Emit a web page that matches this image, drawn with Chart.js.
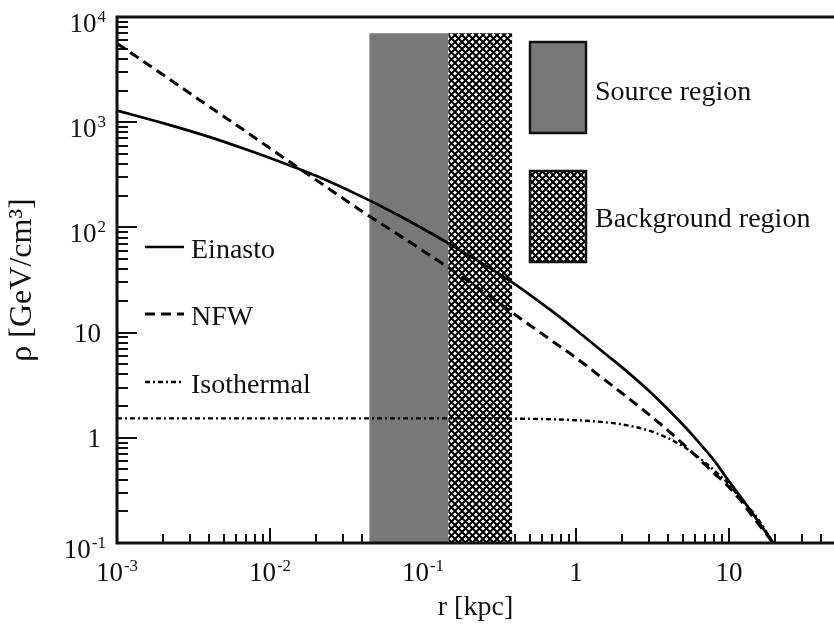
<!DOCTYPE html>
<html>
<head>
<meta charset="utf-8">
<title>Dark matter density profiles</title>
<script src="https://cdn.jsdelivr.net/npm/chart.js@4.4.1/dist/chart.umd.min.js"></script>
<style>
  html, body { margin: 0; padding: 0; background: #fff; }
  canvas { display: block; }
</style>
</head>
<body>
<canvas id="myChart" width="834" height="624"></canvas>
<script>
// radius in kpc, density in GeV/cm^3
var radius     = [0.001, 0.002, 0.004, 0.007, 0.01, 0.02, 0.04, 0.07, 0.1, 0.2, 0.4, 0.7, 1, 1.5, 2, 3, 4, 5, 6, 7, 8, 10, 12, 15, 19.5];
var einasto    = [1290, 980, 725, 550, 457, 309, 195, 129, 97, 54, 28.8, 15.9, 10.6, 6.55, 4.67, 2.79, 1.86, 1.33, 0.995, 0.767, 0.607, 0.385, 0.27, 0.172, 0.1];
var nfw        = [5600, 2820, 1410, 810, 565, 283, 142, 84, 60, 30.5, 14.8, 8.3, 5.75, 3.66, 2.65, 1.66, 1.17, 0.875, 0.684, 0.551, 0.46, 0.34, 0.25, 0.162, 0.1];
var isothermal = [1.53, 1.53, 1.53, 1.53, 1.53, 1.53, 1.53, 1.53, 1.53, 1.53, 1.52, 1.5, 1.47, 1.41, 1.34, 1.17, 0.99, 0.83, 0.69, 0.58, 0.49, 0.36, 0.26, 0.18, 0.1];
var profiles   = ['Einasto', 'NFW', 'Isothermal'];

// shaded regions (kpc)
var regions    = ['Source region', 'Background region'];
var regionFrom = [0.0445, 0.146];
var regionTo   = [0.146, 0.383];
var regionTop  = 7000;

// axes
var xDecades    = [0.001, 0.01, 0.1, 1, 10];
var xTickLabels = [['10', '-3'], ['10', '-2'], ['10', '-1'], ['1', ''], ['10', '']];
var yDecades    = [0.1, 1, 10, 100, 1000, 10000];
var yTickLabels = [['10', '-1'], ['1', ''], ['10', ''], ['10', '2'], ['10', '3'], ['10', '4']];

var serif = '"Liberation Serif", "Times New Roman", serif';
var ink = '#111';

function toPoints(values) {
    return values.map(function (v, i) { return {x: radius[i], y: v}; });
}

function logTicks(decades, min, max) {
    var out = [];
    decades.forEach(function (d) {
        for (var m = 1; m < 10; m++) {
            var v = d * m;
            if (v >= min * 0.999 && v <= max * 1.001) out.push({value: v, major: m === 1});
        }
    });
    return out;
}

function hatchPattern() {
    var s = 7;
    var c = document.createElement('canvas');
    c.width = s; c.height = s;
    var g = c.getContext('2d');
    g.fillStyle = '#fff';
    g.fillRect(0, 0, s, s);
    g.strokeStyle = '#000';
    g.lineWidth = 2;
    for (var k = -1; k <= 1; k++) {
        g.beginPath();
        g.moveTo(k * s, 0); g.lineTo(k * s + s, s);
        g.moveTo(k * s + s, 0); g.lineTo(k * s, s);
        g.stroke();
    }
    return g.createPattern(c, 'repeat');
}

function drawSupText(ctx, parts, x, baseline, align) {
    ctx.font = '27px ' + serif;
    var w1 = ctx.measureText(parts[0]).width;
    ctx.font = '17px ' + serif;
    var w2 = parts[1] ? ctx.measureText(parts[1]).width + 1 : 0;
    var left = align === 'center' ? x - (w1 + w2) / 2 : x - (w1 + w2);
    ctx.textAlign = 'left';
    ctx.textBaseline = 'alphabetic';
    ctx.font = '27px ' + serif;
    ctx.fillText(parts[0], left, baseline);
    if (parts[1]) {
        ctx.font = '17px ' + serif;
        ctx.fillText(parts[1], left + w1 + 1, baseline - 10);
    }
}

var framePlugin = {
    id: 'frame',
    // inner ticks go under the shaded bands
    beforeDatasetsDraw: function (chart) {
        var ctx = chart.ctx, a = chart.chartArea, sx = chart.scales.x, sy = chart.scales.y;
        ctx.save();
        ctx.strokeStyle = ink;
        ctx.lineWidth = 2;
        sx.ticks.forEach(function (t) {
            var px = Math.round(sx.getPixelForValue(t.value));
            ctx.beginPath();
            ctx.moveTo(px, a.bottom);
            ctx.lineTo(px, a.bottom - (t.major ? 15 : 9));
            ctx.stroke();
        });
        sy.ticks.forEach(function (t) {
            var py = Math.round(sy.getPixelForValue(t.value));
            ctx.beginPath();
            ctx.moveTo(a.left, py);
            ctx.lineTo(a.left + (t.major ? 20 : 11), py);
            ctx.stroke();
        });
        ctx.restore();
    },
    afterDatasetsDraw: function (chart) {
        var ctx = chart.ctx, a = chart.chartArea;
        ctx.save();
        ctx.strokeStyle = ink;
        ctx.lineWidth = 3;
        ctx.lineJoin = 'miter';
        ctx.beginPath();
        ctx.moveTo(a.right + 2, a.top);
        ctx.lineTo(a.left, a.top);
        ctx.lineTo(a.left, a.bottom);
        ctx.lineTo(a.right + 2, a.bottom);
        ctx.stroke();
        ctx.restore();
    },
    afterDraw: function (chart) {
        var ctx = chart.ctx, a = chart.chartArea, sx = chart.scales.x, sy = chart.scales.y;
        ctx.save();
        ctx.fillStyle = ink;

        // tick labels with superscripts
        xDecades.forEach(function (d, i) {
            drawSupText(ctx, xTickLabels[i], sx.getPixelForValue(d), a.bottom + 38, 'center');
        });
        yDecades.forEach(function (d, i) {
            var sup = yTickLabels[i][1] !== '';
            var py = sy.getPixelForValue(d);
            drawSupText(ctx, yTickLabels[i], a.left - (sup ? 11 : 16), py + (sup ? 15 : 9), 'right');
        });

        // profile legend
        var rows = [247, 314, 382];
        for (var i = 0; i < 3; i++) {
            var ds = chart.data.datasets[i];
            ctx.strokeStyle = ds.borderColor;
            ctx.lineWidth = ds.borderWidth;
            ctx.setLineDash(ds.borderDash);
            ctx.beginPath();
            ctx.moveTo(145, rows[i]);
            ctx.lineTo(184, rows[i]);
            ctx.stroke();
            ctx.setLineDash([]);
            ctx.font = '28px ' + serif;
            ctx.textAlign = 'left';
            ctx.textBaseline = 'alphabetic';
            ctx.fillText(ds.label, 191, rows[i] + 11);
        }

        // region legend
        var boxes = [[530, 42, 56, 91, 100], [530, 171, 56, 91, 227]];
        for (var j = 0; j < 2; j++) {
            var rd = chart.data.datasets[3 + j];
            var b = boxes[j];
            ctx.fillStyle = rd.backgroundColor;
            ctx.fillRect(b[0], b[1], b[2], b[3]);
            ctx.strokeStyle = ink;
            ctx.lineWidth = 2.5;
            ctx.strokeRect(b[0], b[1], b[2], b[3]);
            ctx.fillStyle = ink;
            ctx.font = '28px ' + serif;
            ctx.fillText(rd.label, 595, b[4]);
        }
        ctx.restore();
    }
};

var ctx = document.getElementById('myChart').getContext('2d');

var datasets = [
    {label: profiles[0], data: toPoints(einasto), borderColor: '#000', borderWidth: 2.7, borderDash: []},
    {label: profiles[1], data: toPoints(nfw), borderColor: '#000', borderWidth: 3, borderDash: [10, 6]},
    {label: profiles[2], data: toPoints(isothermal), borderColor: '#000', borderWidth: 2.4, borderDash: [5, 3, 2, 3]}
];
regions.forEach(function (name, i) {
    datasets.push({
        label: name,
        data: [{x: regionFrom[i], y: regionTop}, {x: regionTo[i], y: regionTop}],
        backgroundColor: i === 0 ? '#787878' : hatchPattern(),
        borderColor: 'rgba(0,0,0,0)',
        borderWidth: 0,
        fill: 'start',
        tension: 0
    });
});

var chart = new Chart(ctx, {
    type: 'line',
    data: {datasets: datasets},
    options: {
        responsive: false,
        animation: false,
        devicePixelRatio: 1,
        layout: {padding: {top: 17, left: 0, right: 0, bottom: 0}},
        plugins: {legend: {display: false}, tooltip: {enabled: false}},
        elements: {
            point: {radius: 0},
            line: {cubicInterpolationMode: 'monotone', borderCapStyle: 'butt', fill: false}
        },
        scales: {
            x: {
                type: 'logarithmic',
                position: 'bottom',
                min: 0.001,
                max: 48.5,
                afterBuildTicks: function (s) { s.ticks = logTicks(xDecades, s.min, s.max); },
                afterFit: function (s) { s.height = 81; },
                ticks: {display: false},
                grid: {display: false},
                border: {display: false},
                title: {display: true, text: 'r [kpc]', color: ink, font: {family: serif, size: 28}, padding: {top: 0, bottom: 0}}
            },
            y: {
                type: 'logarithmic',
                position: 'left',
                min: 0.1,
                max: 10000,
                afterBuildTicks: function (s) { s.ticks = logTicks(yDecades, s.min, s.max); },
                afterFit: function (s) { s.width = 117; },
                ticks: {display: false},
                grid: {display: false},
                border: {display: false},
                title: {display: true, text: 'ρ [GeV/cm³]', color: ink, font: {family: serif, size: 32}, padding: {top: 3, bottom: 0}}
            }
        }
    },
    plugins: [framePlugin]
});
</script>
</body>
</html>
